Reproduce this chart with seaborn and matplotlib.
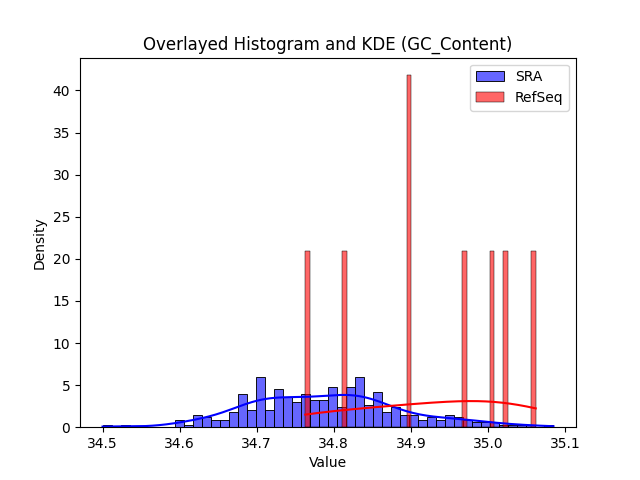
import numpy as np
import matplotlib
matplotlib.use("Agg")
import matplotlib.pyplot as plt
import seaborn as sns

# SRA: 50 equal bins between min and max, counts
sra_lo = 34.5
sra_hi = 35.085
sra_counts = [1, 0, 1, 0, 0, 0, 0, 0, 3, 1,
              5, 4, 3, 3, 6, 13, 7, 20, 7, 15,
              12, 10, 13, 11, 11, 16, 8, 16, 20, 9,
              14, 6, 8, 5, 5, 3, 4, 3, 5, 4,
              3, 2, 2, 2, 1, 1, 1, 1, 0, 1]

# RefSeq: individual GC content values
refseq_values = [34.763, 34.814, 34.898, 34.898, 34.970, 35.005, 35.023, 35.062]

# rebuild the SRA sample from the bin counts (extremes kept exact)
edges = np.linspace(sra_lo, sra_hi, len(sra_counts) + 1)
centers = (edges[:-1] + edges[1:]) / 2
inner = list(sra_counts)
inner[0] -= 1
inner[-1] -= 1
sra_values = np.concatenate([[sra_lo], np.repeat(centers, inner), [sra_hi]])

fig, ax = plt.subplots(figsize=(6.4, 4.8), dpi=100)
sns.histplot(sra_values, bins=50, stat='density', kde=True, color='blue',
             alpha=0.6, label='SRA', ax=ax)
sns.histplot(refseq_values, bins=50, stat='density', kde=True, color='red',
             alpha=0.6, label='RefSeq', ax=ax)

ax.set_title('Overlayed Histogram and KDE (GC_Content)')
ax.set_xlabel('Value')
ax.set_ylabel('Density')
ax.legend()

plt.savefig('out.png')
